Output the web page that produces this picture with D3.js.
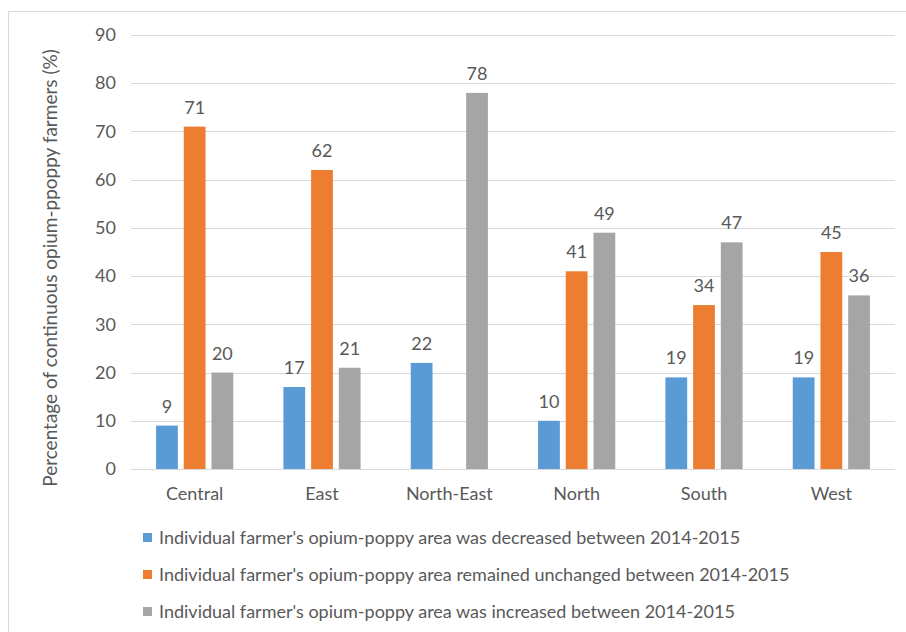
<!DOCTYPE html>
<html><head><meta charset="utf-8">
<script src="https://cdn.jsdelivr.net/npm/d3@7"></script>
<style>
html,body{margin:0;padding:0;background:#fff;}
svg{display:block;}
text{font-family:Lato, "Open Sans", sans-serif;fill:#595959;}
</style></head>
<body>
<svg id="chart" width="906" height="632"></svg>
<script>
const categories = ["Central","East","North-East","North","South","West"];
const seriesNames = [
  "Individual farmer's opium-poppy area was decreased between 2014-2015",
  "Individual farmer's opium-poppy area remained unchanged between 2014-2015",
  "Individual farmer's opium-poppy area was increased between 2014-2015"
];
const decreased = [9,17,22,10,19,19];
const unchanged = [71,62,null,41,34,45];
const increased = [20,21,78,49,47,36];
const yTicks = [0,10,20,30,40,50,60,70,80,90];
const colors = ["#5B9BD5","#ED7D31","#A5A5A5"];
const yTitle = "Percentage of continuous opium-ppoppy farmers (%)";

const series = [decreased, unchanged, increased];
const svg = d3.select("#chart");

// outer border
svg.append("rect").attr("x",8.5).attr("y",11.5).attr("width",1000).attr("height",1000)
  .attr("fill","none").attr("stroke","#D9D9D9").attr("stroke-width",1);

const plot = {left:131, right:895, top:35, bottom:469};
const y = d3.scaleLinear().domain([0,90]).range([plot.bottom, plot.top]);
const x0 = d3.scaleBand().domain(categories).range([plot.left, plot.right])
  .paddingInner(0.394).paddingOuter(0.197);
const x1 = d3.scaleBand().domain([0,1,2]).range([0, x0.bandwidth()]).paddingInner(0.214);

// gridlines
svg.append("g").selectAll("line").data(yTicks).join("line")
  .attr("x1",plot.left).attr("x2",plot.right)
  .attr("y1",d=>Math.round(y(d))+0.5).attr("y2",d=>Math.round(y(d))+0.5)
  .attr("stroke","#D9D9D9").attr("stroke-width",1);

// y axis labels
const yAxis = d3.axisLeft(y).tickValues(yTicks).tickSize(0).tickPadding(0);
const gy = svg.append("g").attr("transform",`translate(116,0)`).call(yAxis);
gy.select(".domain").remove();
gy.selectAll("text").attr("font-size",18).attr("fill","#595959")
  .style("font-family","Lato, sans-serif");

// x axis labels
const xAxis = d3.axisBottom(x0).tickSize(0).tickPadding(0);
const gx = svg.append("g").attr("transform",`translate(0,487)`).call(xAxis);
gx.select(".domain").remove();
gx.selectAll("text").attr("font-size",18).attr("fill","#595959")
  .style("font-family","Lato, sans-serif");

// bars
const groups = svg.append("g").selectAll("g").data(categories).join("g")
  .attr("transform",d=>`translate(${x0(d)},0)`);
groups.each(function(cat, ci){
  const g = d3.select(this);
  series.forEach((s, si)=>{
    const v = s[ci];
    if(v==null) return;
    g.append("rect").attr("x",x1(si)).attr("width",x1.bandwidth())
      .attr("y",y(v)).attr("height",y(0)-y(v)).attr("fill",colors[si]);
    g.append("text").attr("x",x1(si)+x1.bandwidth()/2).attr("y",y(v)-13)
      .attr("text-anchor","middle").attr("font-size",18).text(v);
  });
});

// y title
svg.append("text").attr("transform",`translate(57,268) rotate(-90)`)
  .attr("text-anchor","middle").attr("font-size",19).text(yTitle);

// legend
const lg = svg.append("g").selectAll("g").data(seriesNames).join("g")
  .attr("transform",(d,i)=>`translate(143,${538+i*37})`);
lg.append("rect").attr("x",0).attr("y",-5).attr("width",9).attr("height",9)
  .attr("fill",(d,i)=>colors[i]);
lg.append("text").attr("x",16).attr("y",6).attr("font-size",18).text(d=>d);
</script>
</body></html>
